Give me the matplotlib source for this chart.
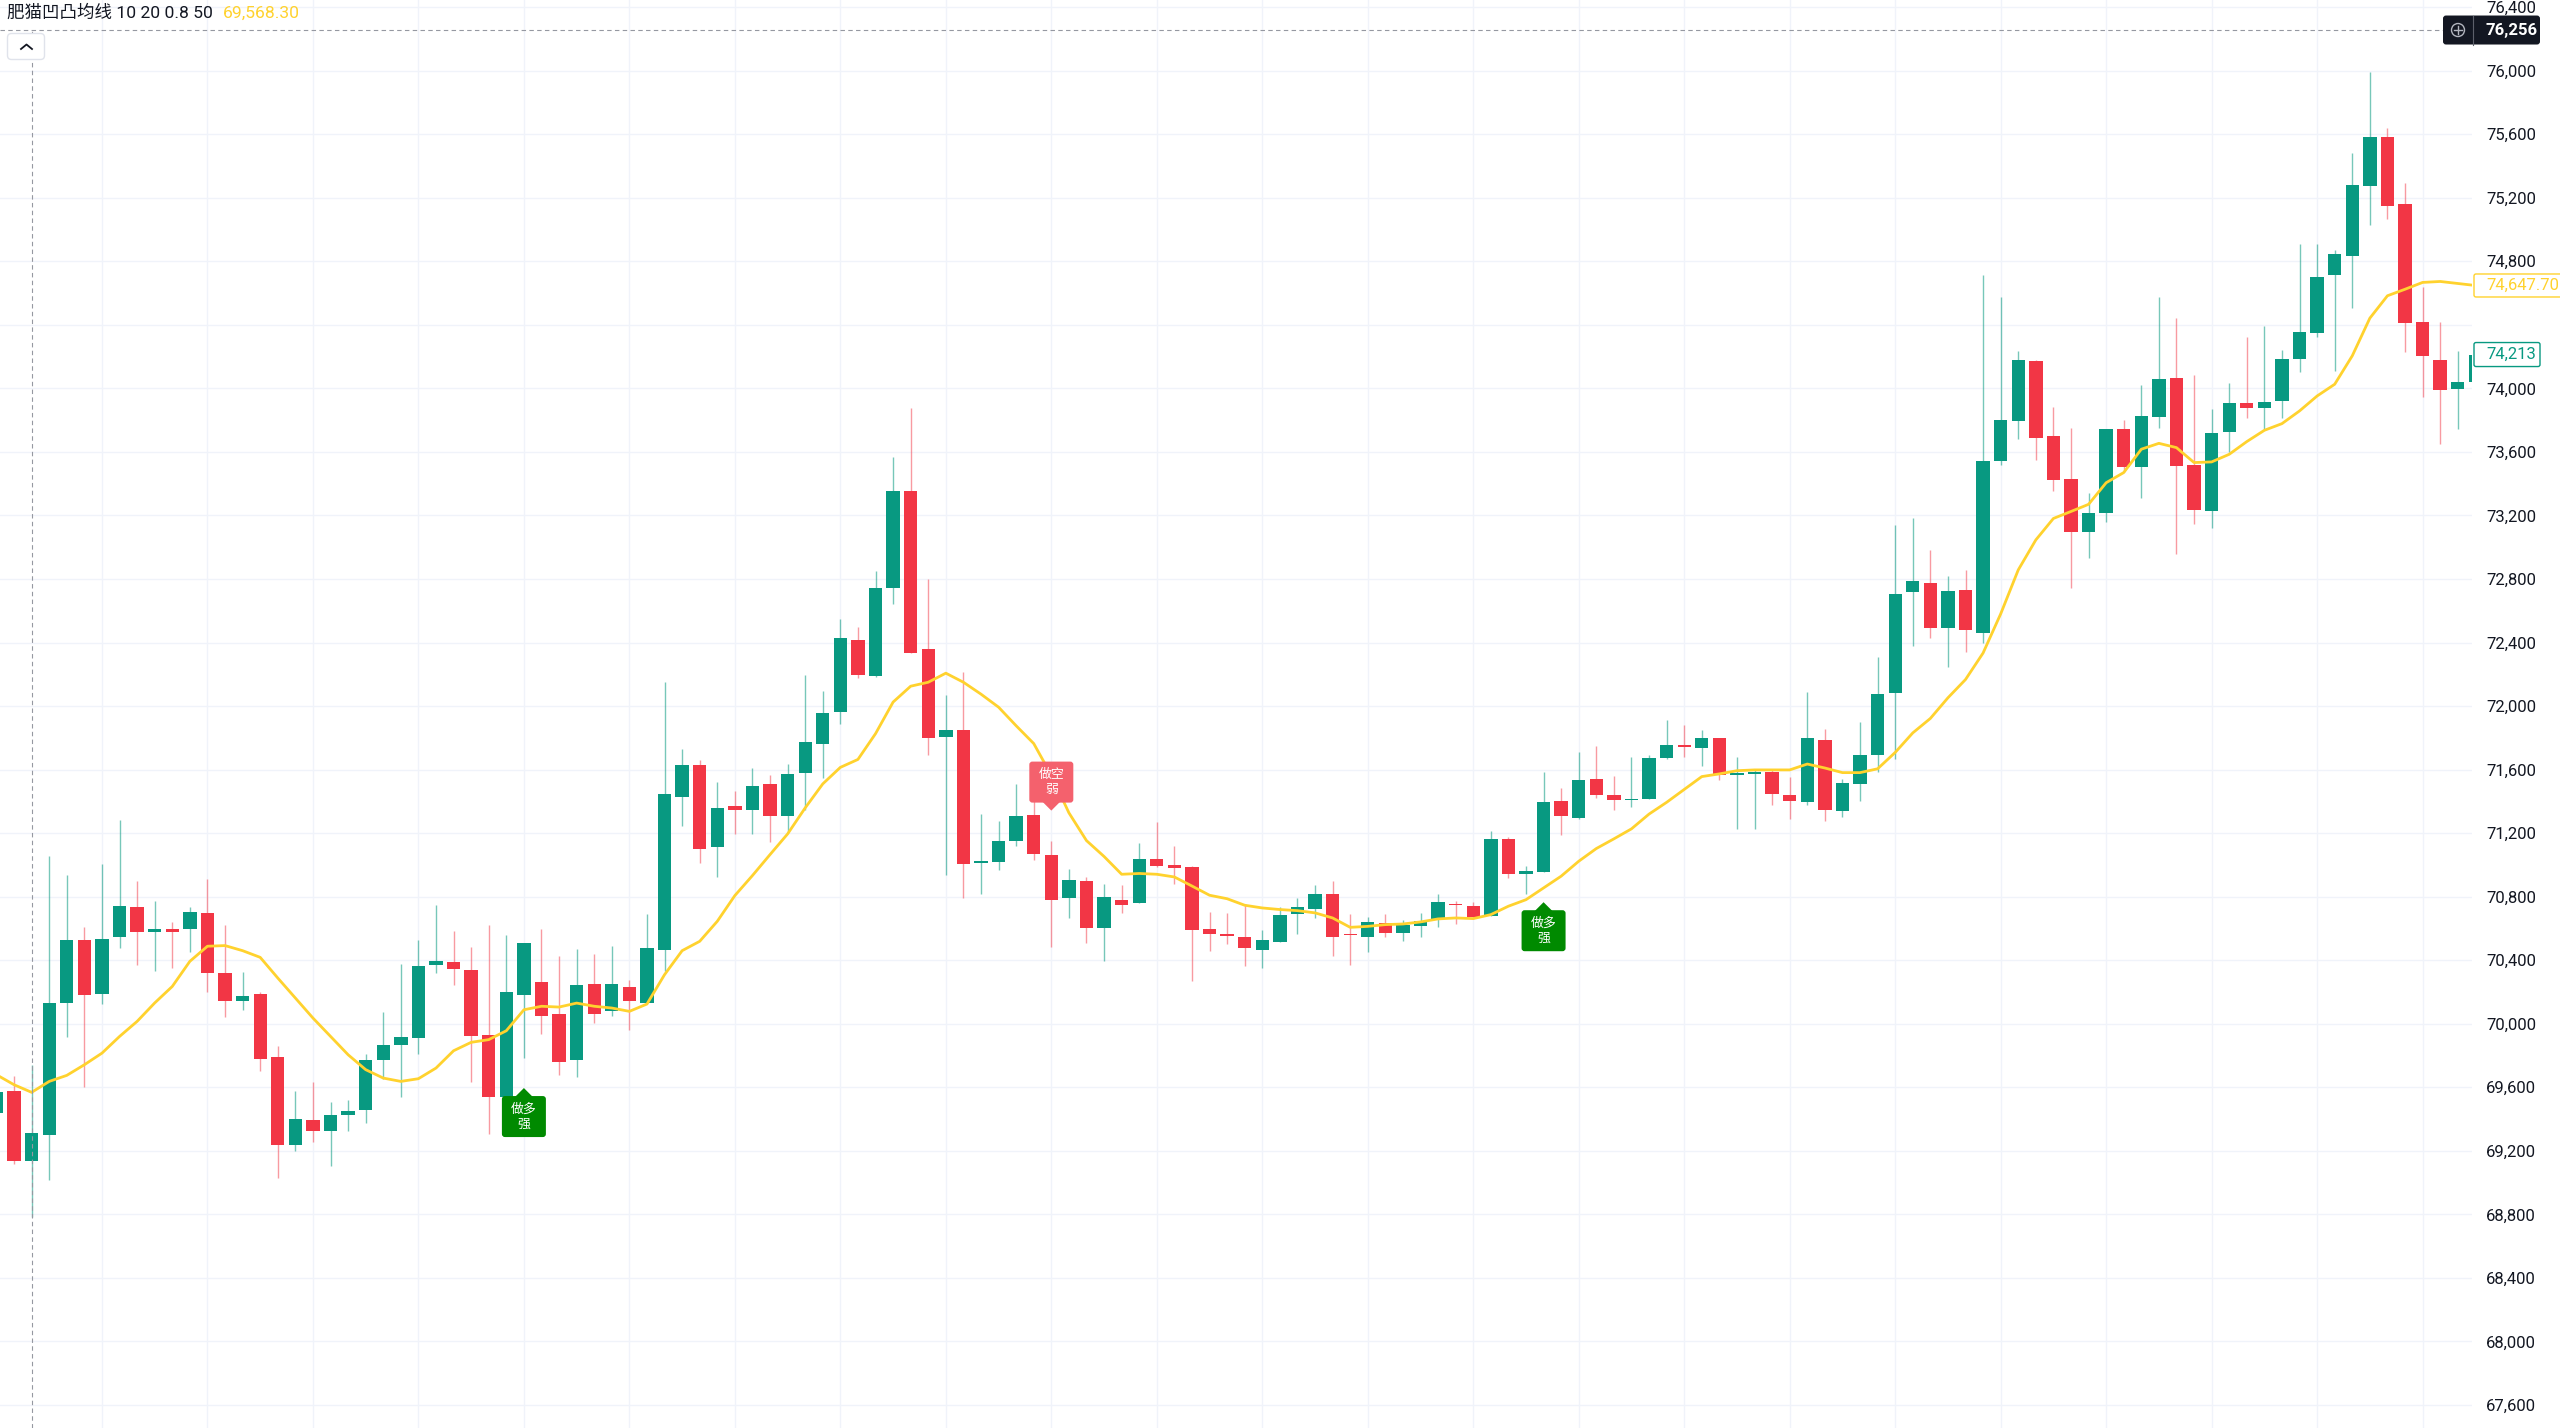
import matplotlib
matplotlib.use('Agg')
import matplotlib.pyplot as plt
from matplotlib.patches import FancyBboxPatch, Polygon, Circle
from matplotlib.lines import Line2D
from matplotlib.transforms import IdentityTransform

# K线数据 (开 高 低 收)
opens = [69440, 69578, 69133, 69301, 70131, 70530, 70187, 70548, 70737, 70578,
         70595, 70599, 70697, 70320, 70145, 70189, 69788, 69238, 69396, 69322,
         69423, 69454, 69774, 69868, 69908, 70368, 70387, 70340, 69927, 69540,
         70179, 70263, 70059, 69771, 70252, 70078, 70229, 70128, 70466, 71426,
         71626, 71113, 71370, 71344, 71512, 71307, 71577, 71762, 71961, 72419,
         72187, 72743, 73351, 72359, 71806, 71851, 71009, 71021, 71153, 71315,
         71061, 70789, 70896, 70605, 70779, 70759, 71036, 71001, 70984, 70597,
         70565, 70544, 70464, 70513, 70693, 70721, 70817, 70565, 70546, 70634,
         70571, 70618, 70660, 70754, 70739, 70676, 71166, 70945, 70954, 71405,
         71296, 71542, 71437, 71407, 71416, 71672, 71757, 71738, 71799, 71564,
         71571, 71586, 71438, 71394, 71789, 71340, 71512, 71691, 72081, 72719,
         72773, 72494, 72729, 72462, 73544, 73797, 74175, 73699, 73431, 73096,
         73213, 73743, 73507, 73822, 74068, 73518, 73228, 73728, 73906, 73876,
         73921, 74184, 74347, 74715, 74835, 75276, 75580, 75160, 74419, 74177,
         73994, 74040]
highs = [69640, 69669, 69742, 71055, 70935, 70607, 71006, 71281, 70897, 70771,
         70641, 70733, 70914, 70624, 70324, 70200, 69862, 69578, 69631, 69505,
         69521, 69809, 70074, 70378, 70530, 70750, 70582, 70483, 70620, 70557,
         70510, 70597, 70424, 70473, 70439, 70492, 70273, 70693, 72153, 71731,
         71661, 71521, 71464, 71611, 71563, 71638, 72193, 72094, 72549, 72499,
         72848, 73570, 73874, 72803, 72068, 72217, 71323, 71278, 71509, 71452,
         71153, 70974, 70924, 70879, 70871, 71136, 71273, 71121, 70990, 70705,
         70700, 70754, 70593, 70735, 70792, 70872, 70901, 70693, 70670, 70693,
         70656, 70698, 70817, 70775, 70767, 71216, 71174, 70992, 71586, 71485,
         71710, 71747, 71558, 71678, 71695, 71910, 71880, 71851, 71799, 71679,
         71598, 71596, 71556, 72086, 71856, 71541, 71897, 72310, 73137, 73181,
         72980, 72818, 72854, 74714, 74575, 74236, 74180, 73883, 73748, 73339,
         73743, 73799, 74020, 74578, 74440, 74083, 73873, 74036, 74326, 74393,
         74240, 74908, 74908, 74872, 75479, 75994, 75639, 75296, 74641, 74419,
         74236, 74213]
lows = [69380, 69116, 68786, 69018, 69916, 69601, 70126, 70477, 70372, 70334,
        70351, 70452, 70198, 70044, 70084, 69704, 69032, 69196, 69253, 69106,
        69322, 69375, 69654, 69540, 69811, 70319, 70246, 69633, 69305, 69437,
        69784, 69935, 69675, 69664, 70004, 70046, 69963, 70128, 70334, 71243,
        71013, 70924, 71195, 71195, 71145, 71202, 71348, 71548, 71888, 72175,
        72182, 72641, 72334, 71689, 70934, 70792, 70817, 70971, 71116, 71029,
        70485, 70667, 70510, 70393, 70700, 70759, 70984, 70879, 70268, 70455,
        70505, 70361, 70351, 70513, 70565, 70666, 70429, 70372, 70452, 70546,
        70519, 70546, 70609, 70628, 70660, 70676, 70918, 70817, 70954, 71187,
        71290, 71422, 71344, 71365, 71416, 71667, 71679, 71622, 71532, 71225,
        71225, 71377, 71291, 71377, 71274, 71303, 71402, 71586, 71667, 72378,
        72427, 72243, 72339, 72400, 73519, 73684, 73549, 73353, 72746, 72930,
        73161, 73476, 73308, 73749, 72955, 73144, 73123, 73602, 73816, 73743,
        73816, 74106, 74326, 74110, 74509, 75028, 75065, 74232, 73948, 73648,
        73743, 74030]
closes = [69570, 69133, 69311, 70131, 70530, 70183, 70536, 70744, 70576, 70597,
          70578, 70704, 70320, 70141, 70172, 69778, 69238, 69402, 69326, 69423,
          69452, 69774, 69864, 69916, 70366, 70393, 70345, 69925, 69536, 70200,
          70506, 70049, 69759, 70246, 70061, 70252, 70145, 70479, 71445, 71626,
          71101, 71359, 71344, 71495, 71307, 71575, 71773, 71955, 72429, 72195,
          72743, 73356, 72334, 71801, 71851, 71004, 71024, 71148, 71310, 71066,
          70779, 70904, 70605, 70797, 70749, 71038, 70991, 70979, 70592, 70567,
          70550, 70477, 70530, 70687, 70733, 70817, 70546, 70557, 70641, 70571,
          70620, 70645, 70765, 70746, 70672, 71160, 70943, 70960, 71397, 71307,
          71533, 71443, 71409, 71416, 71670, 71752, 71740, 71799, 71568, 71578,
          71586, 71446, 71402, 71802, 71345, 71517, 71691, 72074, 72707, 72785,
          72489, 72722, 72481, 73541, 73802, 74180, 73689, 73426, 73095, 73213,
          73743, 73507, 73827, 74058, 73511, 73234, 73717, 73906, 73875, 73916,
          74184, 74358, 74704, 74845, 75282, 75580, 75150, 74410, 74205, 73988,
          74041, 74213]
# 均线
ma = [69679, 69616, 69568.3, 69637, 69675, 69742, 69815, 69920, 70015, 70131,
      70235, 70393, 70488, 70492, 70460, 70418, 70288, 70162, 70036, 69920,
      69805, 69711, 69658, 69637, 69654, 69721, 69830, 69883, 69900, 69956,
      70088, 70110, 70105, 70130, 70110, 70099, 70078, 70124, 70309, 70460,
      70519, 70645, 70807, 70933, 71065, 71195, 71359, 71510, 71614, 71664,
      71826, 72025, 72125, 72150, 72207, 72150, 72075, 71993, 71876, 71764,
      71565, 71328, 71153, 71053, 70941, 70946, 70941, 70924, 70867, 70809,
      70787, 70746, 70729, 70719, 70712, 70698, 70666, 70607, 70613, 70624,
      70628, 70641, 70660, 70666, 70662, 70687, 70740, 70781, 70855, 70929,
      71023, 71103, 71164, 71227, 71320, 71394, 71475, 71556, 71573, 71593,
      71598, 71598, 71598, 71635, 71610, 71581, 71581, 71605, 71708, 71831,
      71922, 72052, 72167, 72334, 72580, 72857, 73046, 73181, 73225, 73270,
      73406, 73470, 73617, 73654, 73627, 73533, 73537, 73585, 73665, 73736,
      73778, 73858, 73952, 74026, 74205, 74442, 74583, 74624, 74667, 74673,
      74660, 74647.7]

title = '肥猫凹凸均线 10 20 0.8 50'
cross_bar = 2
cross_price = 76256
signal_bars = [30, 60, 88]
signal_line1 = ['做多', '做空', '做多']
signal_line2 = ['强', '弱', '强']
signal_long = [True, False, True]
yticks = list(range(67600, 76401, 400))

GREEN = '#089981'
RED = '#F23645'
YELLOW = '#FFD22E'
TEXT = '#131722'
W, H = 2560, 1428

fig = plt.figure(figsize=(25.6, 14.28), dpi=100)
ax = fig.add_axes([0, 0, 2472 / W, 1])
ax.set_xlim(0.2, 140.81)
ax.set_ylim(67455, 76445)
for s in ax.spines.values():
    s.set_visible(False)

n = len(closes)
idx = list(range(n))
up = [c >= o for o, c in zip(opens, closes)]
wick_cols = [(0.031, 0.6, 0.506, 0.55) if u else (0.949, 0.212, 0.27, 0.5) for u in up]
body_cols = [GREEN if u else RED for u in up]
bottoms = [min(o, c) for o, c in zip(opens, closes)]
heights = [max(abs(c - o), 7) for o, c in zip(opens, closes)]

ax.vlines(idx, lows, highs, colors=wick_cols, lw=1.0, zorder=2)
ax.bar(idx, heights, bottom=bottoms, width=0.76, color=body_cols, linewidth=0, zorder=3)
ax.plot(idx, ma, color=YELLOW, lw=2.0, zorder=4, solid_capstyle='round')

# 网格和坐标
ax.set_yticks(yticks)
ax.set_yticklabels(['' if v == 74400 else f'{v:,}' for v in yticks])
ax.set_xticks(range(6, n, 6))
ax.tick_params(axis='x', length=0, labelbottom=False)
ax.yaxis.tick_right()
ax.tick_params(axis='y', length=0, pad=10, labelsize=12, labelcolor=TEXT)
for lab in ax.get_yticklabels():
    lab.set_family(['Roboto', 'DejaVu Sans'])
ax.grid(True, color='#F0F3FA', lw=1, zorder=0)

# 十字线
ax.axhline(cross_price, color='#9598A1', lw=0.8, ls=(0, (4, 3)), zorder=5)
ax.vlines(cross_bar, 67455, cross_price, color='#9598A1', lw=0.8, ls=(0, (4, 3)), zorder=5)

ident = IdentityTransform()
fam = ['Noto Sans CJK SC', 'DejaVu Sans']

# 信号标签
for b, l1, l2, lg in zip(signal_bars, signal_line1, signal_line2, signal_long):
    xp, yp = ax.transData.transform((b, lows[b] if lg else highs[b]))
    bw, bh, tri = 44, 41, 8
    if lg:
        apex = yp - 30
        top = apex - tri
        box_y = top - bh
        tri_pts = [(xp - 9, top - 1), (xp, apex), (xp + 9, top - 1)]
        col = '#008A00'
    else:
        apex = yp + 30
        box_y = apex + tri
        tri_pts = [(xp - 9, box_y + 1), (xp, apex), (xp + 9, box_y + 1)]
        col = '#F4616D'
    fig.add_artist(FancyBboxPatch((xp - bw / 2, box_y), bw, bh,
                                  boxstyle='round,pad=0,rounding_size=3',
                                  fc=col, ec='none', transform=ident, zorder=6))
    fig.add_artist(Polygon(tri_pts, closed=True, fc=col, ec='none', transform=ident, zorder=6))
    yc = box_y + bh / 2
    fig.text(xp, yc + 7.5, l1, transform=ident, ha='center', va='center',
             color='white', fontsize=9.3, family=fam, zorder=7)
    fig.text(xp, yc - 7.5, l2, transform=ident, ha='center', va='center',
             color='white', fontsize=9.3, family=fam, zorder=7)

# 右侧价格标签
_, ycp = ax.transData.transform((0, cross_price))
fig.add_artist(FancyBboxPatch((2443, ycp - 14.5), 97, 29, boxstyle='round,pad=0,rounding_size=3',
                              fc=TEXT, ec='none', transform=ident, zorder=8))
fig.add_artist(Circle((2458, ycp), 6.5, fc='none', ec='#B2B5BE', lw=1, transform=ident, zorder=9))
fig.add_artist(Line2D([2454, 2462], [ycp, ycp], color='#B2B5BE', lw=1, transform=ident, zorder=9))
fig.add_artist(Line2D([2458, 2458], [ycp - 4, ycp + 4], color='#B2B5BE', lw=1, transform=ident, zorder=9))
fig.add_artist(Line2D([2473, 2473], [ycp - 14.5, ycp + 14.5], color='#5D606B', lw=0.8, transform=ident, zorder=9))
fig.text(2486, ycp, f'{cross_price:,}', transform=ident, ha='left', va='center', color='white',
         fontsize=12, fontweight='bold', family=['Roboto', 'DejaVu Sans'], zorder=9)

_, ym = ax.transData.transform((0, ma[-1]))
fig.add_artist(FancyBboxPatch((2474, ym - 11.5), 90, 23, boxstyle='round,pad=0,rounding_size=2',
                              fc='white', ec=YELLOW, lw=1, transform=ident, zorder=8))
fig.text(2486, ym, f'{ma[-1]:,.2f}', transform=ident, ha='left', va='center', color=YELLOW,
         fontsize=12, family=['Roboto', 'DejaVu Sans'], zorder=9)

_, yl = ax.transData.transform((0, closes[-1]))
fig.add_artist(FancyBboxPatch((2474, yl - 12), 66, 24, boxstyle='round,pad=0,rounding_size=2',
                              fc='white', ec=GREEN, lw=1, transform=ident, zorder=8))
fig.text(2486, yl, f'{closes[-1]:,}', transform=ident, ha='left', va='center', color=GREEN,
         fontsize=12, family=['Roboto', 'DejaVu Sans'], zorder=9)

# 左上角标题
t1 = fig.text(7, H - 13, title, transform=ident, ha='left', va='center', color=TEXT,
              fontsize=12.6, family=['Roboto', 'Noto Sans CJK SC'], zorder=9)
fig.canvas.draw()
bb = t1.get_window_extent(fig.canvas.get_renderer())
fig.text(bb.x1 + 10, H - 13, f'{ma[cross_bar]:,.2f}', transform=ident, ha='left', va='center',
         color=YELLOW, fontsize=12.6, family=['Roboto', 'DejaVu Sans'], zorder=9)

# 折叠按钮
fig.add_artist(FancyBboxPatch((7.5, H - 59.5), 37, 26, boxstyle='round,pad=0,rounding_size=4',
                              fc='white', ec='#E0E3EB', lw=1, transform=ident, zorder=8))
fig.add_artist(Line2D([21, 26.5, 32], [H - 49, H - 44.5, H - 49], color=TEXT, lw=1.3,
                      transform=ident, zorder=9))

fig.savefig('out.png', dpi=100, facecolor='white')
